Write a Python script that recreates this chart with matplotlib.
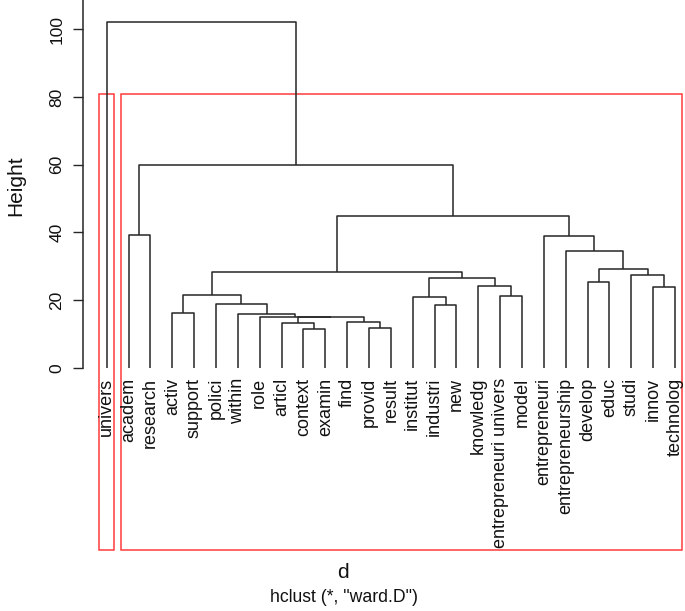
import matplotlib
matplotlib.use("Agg")
import matplotlib.pyplot as plt
from matplotlib.patches import Rectangle

plt.rcParams['font.family'] = ['Liberation Sans', 'DejaVu Sans']

# Leaf labels in plotting order (left to right)
labels = ["univers", "academ", "research", "activ", "support", "polici", "within",
          "role", "articl", "context", "examin", "find", "provid", "result",
          "institut", "industri", "new", "knowledg", "entrepreneuri univers",
          "model", "entrepreneuri", "entrepreneurship", "develop", "educ",
          "studi", "innov", "technolog"]

# R-style merge matrix: negative = leaf (1-based), positive = earlier merge row (1-based)
merge_left = [-10, -13, -9, -12, 3, -8, -7, -4, -16, -6, -15, -19, 8, -26,
              -18, -23, 11, -25, 13, 16, -22, -21, -2, 19, 23, -1]
merge_right = [-11, -14, 1, 2, 4, 5, 6, -5, -17, 7, 9, -20, 10, -27,
               12, -24, 15, 14, 17, 18, 20, 21, -3, 22, 24, 25]
merge_height = [11.5, 11.8, 13.3, 13.45, 15.0, 15.2, 15.8, 16.1, 18.7, 19.0,
                20.9, 21.3, 21.6, 23.9, 24.1, 25.5, 26.5, 27.5, 28.2, 29.2,
                34.4, 39.0, 39.3, 44.9, 59.8, 102.0]

yticks = [0, 20, 40, 60, 80, 100]
n_clusters = 2

W, H = 685, 611
fig = plt.figure(figsize=(W / 100, H / 100), dpi=100)

# axes geometry (pixels)
ax_left_px, ax_right_px, ax_top_px, ax_bot_px = 83.3, 685, 0, 550
ax = fig.add_axes([ax_left_px / W, 1 - ax_bot_px / H,
                   (ax_right_px - ax_left_px) / W, (ax_bot_px - ax_top_px) / H])

zero_px, per_unit = 368.0, 3.388
leaf0_px, spacing = 106.7, 21.86
ax.set_ylim((zero_px - ax_bot_px) / per_unit, zero_px / per_unit)
ax.set_xlim(1 + (ax_left_px - leaf0_px) / spacing, 1 + (ax_right_px - leaf0_px) / spacing)

line_kw = dict(color="#262626", lw=1.1, solid_capstyle="butt")

def node_info(idx, xs):
    if idx < 0:
        return (-idx), 0.0
    return xs[idx - 1]

xs = []
for l, r, h in zip(merge_left, merge_right, merge_height):
    xl, hl = node_info(l, xs)
    xr, hr = node_info(r, xs)
    ax.plot([xl, xl, xr, xr], [hl, h, h, hr], **line_kw)
    xs.append(((xl + xr) / 2, h))

# leaf labels
for i, lab in enumerate(labels, start=1):
    ax.text(i, -2.9, lab, rotation=90, ha="center", va="top", fontsize=13,
            color="#111111")

# cluster rectangles (k = 2), like rect.hclust
def leaves_of(idx):
    if idx < 0:
        return [-idx]
    return leaves_of(merge_left[idx - 1]) + leaves_of(merge_right[idx - 1])

top = len(merge_height)
groups = [leaves_of(merge_left[top - 1]), leaves_of(merge_right[top - 1])]
rect_top = (merge_height[-1] + merge_height[-2]) / 2
ybot = ax.get_ylim()[0]
for g in groups:
    x0 = min(g) - 0.34
    x1 = max(g) + 0.33
    ax.add_patch(Rectangle((x0, ybot), x1 - x0, rect_top - ybot, fill=False,
                           edgecolor="#ff3b3b", lw=1.1, clip_on=False))

# axes styling
for s in ["top", "right", "bottom"]:
    ax.spines[s].set_visible(False)
ax.spines["left"].set_bounds(0, ax.get_ylim()[1])
ax.spines["left"].set_color("#262626")
ax.spines["left"].set_linewidth(1.1)
ax.set_xticks([])
ax.set_yticks(yticks)
ax.set_yticklabels([str(t) for t in yticks], rotation=90, va="center",
                   fontsize=12.5, color="#111111")
ax.tick_params(axis="y", length=7.5, width=1.0, pad=6, color="#262626")

fig.text(16 / W, 1 - 186 / H, "Height", rotation=90, ha="center", va="center",
         fontsize=15, color="#111111")
fig.text(343 / W, 1 - 573 / H, "d", ha="center", va="center", fontsize=15,
         color="#111111")
fig.text(344 / W, 1 - 597 / H, 'hclust (*, "ward.D")', ha="center", va="center",
         fontsize=12.7, color="#111111")

fig.savefig("out.png", dpi=100)
